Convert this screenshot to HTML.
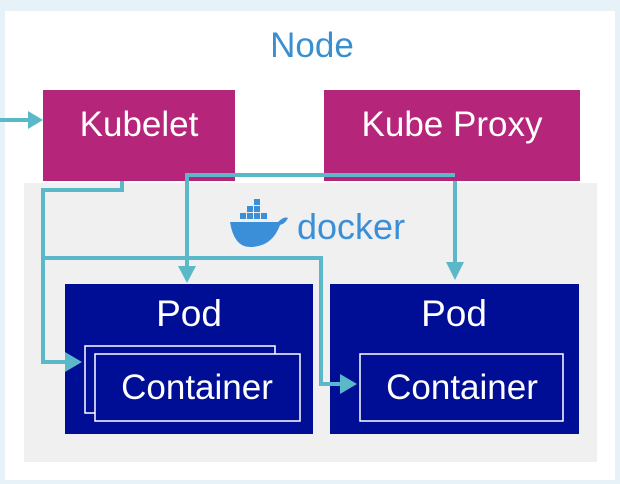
<!DOCTYPE html>
<html><head><style>
body{margin:0;width:620px;height:484px;background:#e6f1f8;overflow:hidden;font-family:"Liberation Sans",sans-serif;}
</style></head><body>
<svg width="620" height="484" xmlns="http://www.w3.org/2000/svg" style="position:absolute;left:0;top:0">
<rect x="5" y="11" width="610" height="469" fill="#fff"/>
<text x="312" y="57" font-size="35" fill="#3a8fd0" text-anchor="middle" font-family="Liberation Sans">Node</text>
<rect x="24" y="183" width="573" height="279" fill="#f0f0f0"/>
<rect x="43" y="90" width="192" height="91" fill="#b5267a"/>
<rect x="324" y="90" width="256" height="91" fill="#b5267a"/>
<text x="139" y="136" font-size="35" fill="#fff" text-anchor="middle">Kubelet</text>
<text x="452" y="136" font-size="35" fill="#fff" text-anchor="middle">Kube Proxy</text>
<!-- docker -->
<g fill="#3b8fd9">
<path d="M230 222 h48 q6 -6 10 -4 q-3 6 -8 7 q-8 22 -30 22 q-16 0 -20 -25z"/>
<rect x="240" y="213" width="6" height="6"/><rect x="247" y="213" width="6" height="6"/><rect x="254" y="213" width="6" height="6"/><rect x="261" y="213" width="6" height="6"/>
<rect x="247" y="206" width="6" height="6"/><rect x="254" y="206" width="6" height="6"/><rect x="254" y="199" width="6" height="6"/>
<text x="297" y="239" font-size="36" font-family="Liberation Sans">docker</text>
</g>
<rect x="65" y="284" width="248" height="150" fill="#000e96"/>
<rect x="330" y="284" width="249" height="150" fill="#000e96"/>
<text x="189" y="326" font-size="37" fill="#fff" text-anchor="middle">Pod</text>
<text x="454" y="326" font-size="37" fill="#fff" text-anchor="middle">Pod</text>
<rect x="85" y="346" width="190" height="67" fill="#000e96" stroke="#fff" stroke-width="1.5"/>
<rect x="95" y="354" width="205" height="67" fill="#000e96" stroke="#fff" stroke-width="1.5"/>
<rect x="360" y="354" width="203" height="67" fill="#000e96" stroke="#fff" stroke-width="1.5"/>
<text x="197" y="399" font-size="35" fill="#fff" text-anchor="middle">Container</text>
<text x="462" y="399" font-size="35" fill="#fff" text-anchor="middle">Container</text>
<g stroke="#5bb8c8" stroke-width="4" fill="none">
<path d="M0 120 H30"/>
<path d="M122 181 V190 H43 V362 H68"/>
<path d="M43 258 H321 V384 H342"/>
<path d="M455 181 V262"/>
<path d="M455 175 H187 V268"/>
</g>
<g fill="#5bb8c8">
<polygon points="28,111 43,120 28,129"/>
<polygon points="65,352 82,362 65,372"/>
<polygon points="340,374 357,384 340,394"/>
<polygon points="446,262 464,262 455,280"/>
<polygon points="178,266 196,266 187,283"/>
</g>
</svg>
</body></html>
